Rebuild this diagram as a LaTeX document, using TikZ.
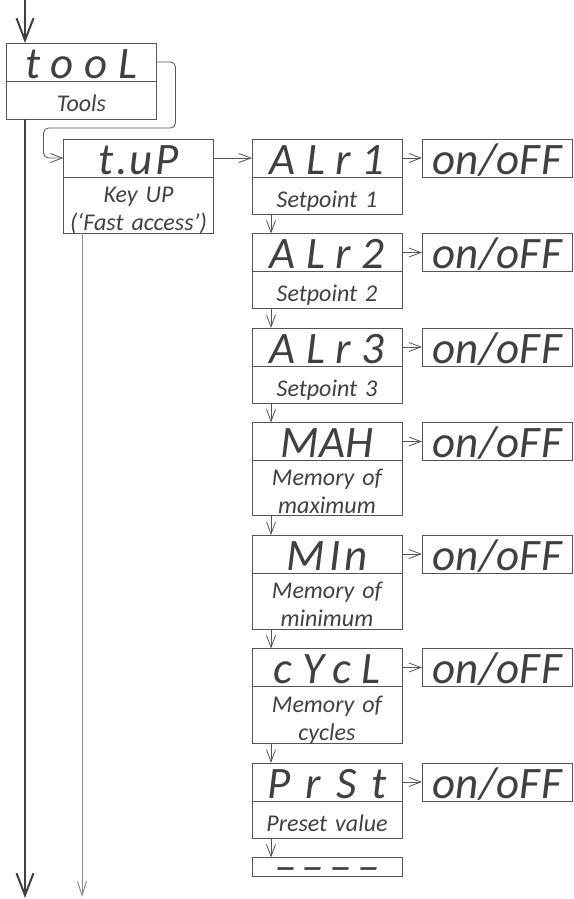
\documentclass[tikz,border=0pt]{standalone}
\usepackage{fontspec}
\usetikzlibrary{positioning,arrows.meta}
\setmainfont{Carlito}
\newfontfamily\segfont{Carlito}
\definecolor{PanelGrey}{HTML}{404040}
\definecolor{EdgeGrey}{HTML}{555555}
\definecolor{GuideGrey}{HTML}{8C8C8C}

\begin{document}
\begin{tikzpicture}[
    x=1pt,y=-1pt,
    node distance=19.5pt,
    display/.style={
      draw=EdgeGrey,
      line width=0.9pt,
      outer sep=0pt,
      minimum width=150pt,
      minimum height=38pt,
      inner sep=0pt,
      text height=33pt,
      text depth=1pt,
      text=PanelGrey,
      font={\segfont\fontsize{45}{45}\selectfont\itshape\addfontfeatures{LetterSpace=#1}}
    },
    display/.default=23,
    desc/.style={
      draw=EdgeGrey,
      line width=0.9pt,
      outer sep=0pt,
      minimum width=150pt,
      text width=146pt,
      inner sep=0pt,
      align=center,
      text=PanelGrey,
      text height=23pt,
      text depth=0pt,
      font={\fontsize{24}{28}\selectfont\itshape}
    },
    twolines/.style={
      text height=20pt,
      text depth=26pt
    },
    flow/.style={
      draw=EdgeGrey,
      line width=0.8pt,
      -{Straight Barb[length=12pt,width=9pt]}
    },
    mainflow/.style={
      draw=PanelGrey,
      line width=2pt,
      -{Straight Barb[length=22pt,width=17pt,line width=2pt]}
    },
    guide/.style={
      draw=GuideGrey,
      line width=1pt,
      -{Straight Barb[length=14pt,width=9pt]}
    }
  ]
  \useasboundingbox (0,0) rectangle (573,899);

  \coordinate (entry) at (25,0);
  \coordinate (exit) at (25,898);
  \coordinate (floor) at (82,897);

  % main menu
  \node[display=24] (tool) at (81.5,62) {tooL};
  \node[desc, minimum height=38pt, below=0pt of tool] (tooldesc) {Tools};

  \node[display=5] (tup) at (138.5,158) {t.uP};
  \node[desc, twolines, minimum height=56pt, below=0pt of tup] (tupdesc) {Key UP\\(‘Fast access’)};

  % submenu
  \node[display] (alrone) at (327,158) {ALr1};
  \node[desc, minimum height=37pt, below=0pt of alrone] (alronedesc) {Setpoint 1};
  \node[display, below=of alronedesc] (alrtwo) {ALr2};
  \node[desc, minimum height=37pt, below=0pt of alrtwo] (alrtwodesc) {Setpoint 2};
  \node[display, below=of alrtwodesc] (alrthree) {ALr3};
  \node[desc, minimum height=37pt, below=0pt of alrthree] (alrthreedesc) {Setpoint 3};
  \node[display=1, below=of alrthreedesc] (max) {MAH};
  \node[desc, twolines, minimum height=55pt, below=0pt of max] (maxdesc) {Memory of\\maximum};
  \node[display=10, below=of maxdesc] (min) {MIn};
  \node[desc, twolines, minimum height=56pt, below=0pt of min] (mindesc) {Memory of\\minimum};
  \node[display, below=of mindesc] (cycl) {cYcL};
  \node[desc, twolines, minimum height=57pt, below=0pt of cycl] (cycldesc) {Memory of\\cycles};
  \node[display=33, below=of cycldesc] (prst) {PrSt};
  \node[desc, minimum height=37pt, below=0pt of prst] (prstdesc) {Preset value};
  \node[display=12, minimum height=19pt, text height=0pt, text depth=0pt, below=of prstdesc] (dashes) {\raisebox{-14pt}{––––}};

  \foreach \item in {alrone,alrtwo,alrthree,max,min,cycl,prst}
    \node[display=1, right=20pt of \item] (\item onoff) {on/oFF};

  % connectors
  \draw[mainflow] (entry) -- (entry |- tool.north);
  \draw[mainflow] (entry |- tooldesc.south) -- (exit);
  \draw[flow, rounded corners=5pt] (tool.east) -- ++(19,0) -- ++(0,66) -| ([xshift=-20pt]tup.west) -- (tup.west);
  \draw[flow] (tup) -- (alrone);
  \draw[guide] (floor |- tupdesc.south) -- (floor);

  \foreach \from/\to in {alronedesc/alrtwo,alrtwodesc/alrthree,alrthreedesc/max,maxdesc/min,mindesc/cycl,cycldesc/prst,prstdesc/dashes}
    \draw[flow] ([xshift=19pt]\from.south west) -- ([xshift=19pt]\to.north west);

  \foreach \item in {alrone,alrtwo,alrthree,max,min,cycl,prst}
    \draw[flow] (\item) -- (\item onoff);
\end{tikzpicture}
\end{document}
